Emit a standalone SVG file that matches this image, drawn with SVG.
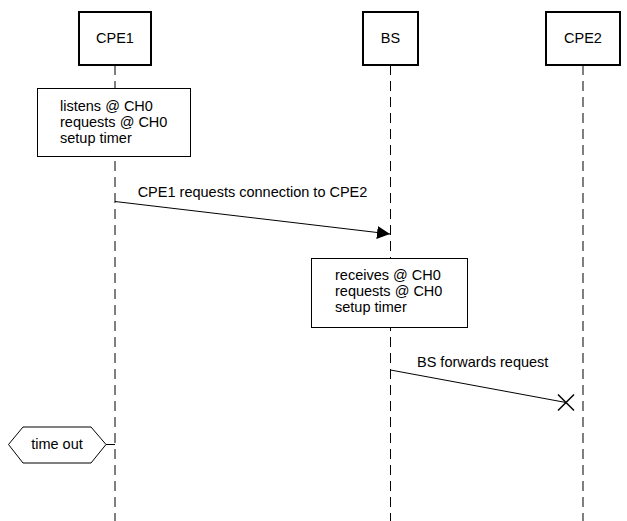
<svg xmlns="http://www.w3.org/2000/svg" width="627" height="521" viewBox="0 0 627 521">
<defs>
<style>
.hdr{fill:#fff;stroke:#000;stroke-width:2}
.note{fill:#fff;stroke:#000;stroke-width:1}
.life{stroke:#000;stroke-width:1;stroke-dasharray:10 6;fill:none}
.msg{stroke:#000;stroke-width:1;fill:none}
.cross{stroke:#000;stroke-width:1.5;fill:none}
text{font-family:"Liberation Sans",Arial,Helvetica,sans-serif;font-size:14.5px;fill:#000}
.c{text-anchor:middle}
</style>
<marker id="block" viewBox="0 0 13 13" refX="13" refY="6.5" markerWidth="13" markerHeight="13" markerUnits="userSpaceOnUse" orient="auto">
<path d="M0,0 L13,6.5 L0,13 Z" fill="#000"/>
</marker>
</defs>
<rect width="627" height="521" fill="#fff"/>
<g id="lifelines">
<line class="life" x1="115" y1="65" x2="115" y2="521"/>
<line class="life" x1="390.5" y1="65" x2="390.5" y2="521"/>
<line class="life" x1="583" y1="65" x2="583" y2="521"/>
</g>
<g id="CPE1">
<rect class="hdr" x="79" y="12" width="72" height="53"/>
<text class="c" x="115" y="43">CPE1</text>
</g>
<g id="BS">
<rect class="hdr" x="363" y="12" width="55" height="53"/>
<text class="c" x="390.5" y="43">BS</text>
</g>
<g id="CPE2">
<rect class="hdr" x="546" y="12" width="74" height="53"/>
<text class="c" x="583" y="43">CPE2</text>
</g>
<g id="note1">
<rect class="note" x="37.5" y="88.5" width="153" height="68"/>
<text x="60" y="111">listens @ CH0</text>
<text x="60" y="127">requests @ CH0</text>
<text x="60" y="143">setup timer</text>
</g>
<g id="note2">
<rect class="note" x="311.5" y="258.5" width="156" height="69"/>
<text x="335" y="280">receives @ CH0</text>
<text x="335" y="296">requests @ CH0</text>
<text x="335" y="312">setup timer</text>
</g>
<g id="timeout">
<polygon class="note" points="8.5,444.5 23,427 91,427 106,444.5 91,463 23,463"/>
<text class="c" x="57" y="449">time out</text>
</g>
<g id="connectors">
<line class="msg" x1="115" y1="201.5" x2="390" y2="234" marker-end="url(#block)"/>
<text class="c" x="252.5" y="197">CPE1 requests connection to CPE2</text>
<line class="msg" x1="390.5" y1="370" x2="566" y2="402.5"/>
<path class="cross" d="M558,394.5 L574,410.5 M574,394.5 L558,410.5"/>
<text x="417" y="367">BS forwards request</text>
<line class="msg" x1="106" y1="444.5" x2="115" y2="444.5"/>
</g>
</svg>
